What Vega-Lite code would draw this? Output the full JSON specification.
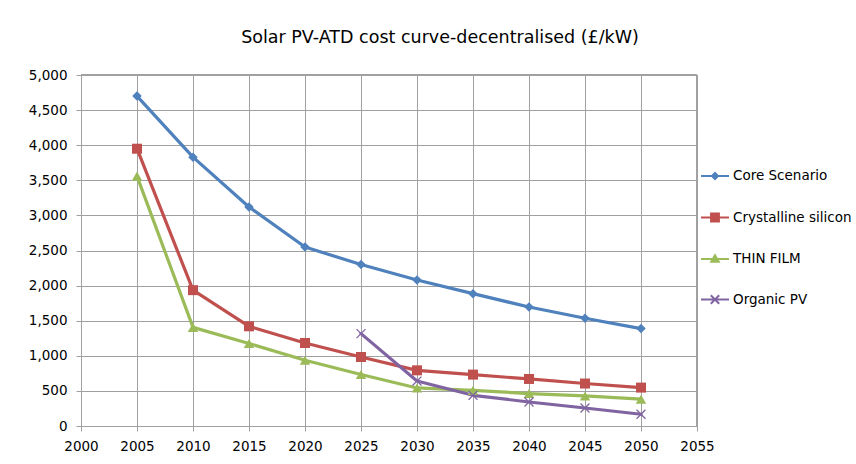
{
  "$schema": "https://vega.github.io/schema/vega-lite/v6.json",
  "autosize": "none",
  "width": 616,
  "height": 351,
  "padding": {"left": 81, "top": 75, "right": 159, "bottom": 38},
  "background": "white",
  "title": {
    "text": "Solar PV-ATD cost curve-decentralised (£/kW)",
    "font": "DejaVu Sans",
    "fontSize": 17.5,
    "fontWeight": "normal",
    "color": "#000000",
    "anchor": "middle",
    "frame": "group",
    "dx": 51,
    "baseline": "alphabetic",
    "offset": 8
  },
  "config": {
    "view": {"stroke": null},
    "font": "DejaVu Sans",
    "axis": {
      "labelFont": "DejaVu Sans",
      "labelFontSize": 13.5,
      "labelColor": "#000000",
      "gridColor": "#a0a0a0",
      "gridWidth": 1,
      "gridOpacity": 1,
      "domainColor": "#a0a0a0",
      "tickColor": "#a0a0a0",
      "tickSize": 5,
      "title": null
    }
  },
  "data": {
    "values": [
      {"year": 2005, "series": "Core Scenario", "cost": 4700},
      {"year": 2010, "series": "Core Scenario", "cost": 3830},
      {"year": 2015, "series": "Core Scenario", "cost": 3120},
      {"year": 2020, "series": "Core Scenario", "cost": 2550},
      {"year": 2025, "series": "Core Scenario", "cost": 2300},
      {"year": 2030, "series": "Core Scenario", "cost": 2080},
      {"year": 2035, "series": "Core Scenario", "cost": 1885},
      {"year": 2040, "series": "Core Scenario", "cost": 1695},
      {"year": 2045, "series": "Core Scenario", "cost": 1535},
      {"year": 2050, "series": "Core Scenario", "cost": 1388},
      {"year": 2005, "series": "Crystalline silicon", "cost": 3950},
      {"year": 2010, "series": "Crystalline silicon", "cost": 1935},
      {"year": 2015, "series": "Crystalline silicon", "cost": 1420},
      {"year": 2020, "series": "Crystalline silicon", "cost": 1182},
      {"year": 2025, "series": "Crystalline silicon", "cost": 983},
      {"year": 2030, "series": "Crystalline silicon", "cost": 793},
      {"year": 2035, "series": "Crystalline silicon", "cost": 732},
      {"year": 2040, "series": "Crystalline silicon", "cost": 670},
      {"year": 2045, "series": "Crystalline silicon", "cost": 605},
      {"year": 2050, "series": "Crystalline silicon", "cost": 547},
      {"year": 2005, "series": "THIN FILM", "cost": 3560},
      {"year": 2010, "series": "THIN FILM", "cost": 1405},
      {"year": 2015, "series": "THIN FILM", "cost": 1175},
      {"year": 2020, "series": "THIN FILM", "cost": 937},
      {"year": 2025, "series": "THIN FILM", "cost": 733},
      {"year": 2030, "series": "THIN FILM", "cost": 542},
      {"year": 2035, "series": "THIN FILM", "cost": 508},
      {"year": 2040, "series": "THIN FILM", "cost": 462},
      {"year": 2045, "series": "THIN FILM", "cost": 428},
      {"year": 2050, "series": "THIN FILM", "cost": 382},
      {"year": 2025, "series": "Organic PV", "cost": 1316},
      {"year": 2030, "series": "Organic PV", "cost": 640},
      {"year": 2035, "series": "Organic PV", "cost": 437},
      {"year": 2040, "series": "Organic PV", "cost": 342},
      {"year": 2045, "series": "Organic PV", "cost": 256},
      {"year": 2050, "series": "Organic PV", "cost": 167}
    ]
  },
  "encoding": {
    "x": {
      "field": "year",
      "type": "quantitative",
      "scale": {"domain": [2000, 2055], "nice": false, "zero": false},
      "axis": {
        "values": [2000, 2005, 2010, 2015, 2020, 2025, 2030, 2035, 2040, 2045, 2050, 2055],
        "format": "d",
        "labelPadding": 8,
        "labelFlush": false
      }
    },
    "y": {
      "field": "cost",
      "type": "quantitative",
      "scale": {"domain": [0, 5000], "nice": false},
      "axis": {
        "values": [0, 500, 1000, 1500, 2000, 2500, 3000, 3500, 4000, 4500, 5000],
        "format": ",.0f",
        "labelPadding": 9,
        "labelFlush": false
      }
    },
    "color": {
      "field": "series",
      "type": "nominal",
      "scale": {
        "domain": ["Core Scenario", "Crystalline silicon", "THIN FILM", "Organic PV"],
        "range": ["#4F81BD", "#C0504D", "#9BBB59", "#8064A2"]
      },
      "legend": null
    }
  },
  "layer": [
    {
      "mark": {"type": "rule", "color": "#a0a0a0", "strokeWidth": 1},
      "encoding": {
        "x": {"datum": 2055, "type": "quantitative"},
        "y": null,
        "color": null
      }
    },
    {
      "mark": {"type": "rule", "color": "#a0a0a0", "strokeWidth": 1},
      "encoding": {
        "y": {"datum": 5000, "type": "quantitative"},
        "x": null,
        "color": null
      }
    },
    {
      "mark": {"type": "line", "strokeWidth": 3.2, "strokeJoin": "round", "strokeCap": "round"},
      "encoding": {
        "detail": {"field": "series"},
        "color": {
          "field": "series",
          "type": "nominal",
          "legend": {
            "orient": "none",
            "legendX": 619,
            "legendY": 86,
            "title": null,
            "padding": 0,
            "labelFont": "DejaVu Sans",
            "labelFontSize": 13.5,
            "labelColor": "#000000",
            "labelOffset": 3,
            "symbolSize": 784,
            "symbolStrokeWidth": 2,
            "rowPadding": 18.5,
            "encode": {
              "symbols": {
                "update": {
                  "shape": {"signal": "datum.value === 'Core Scenario' ? 'M-1,0H1M0,-0.22L0.22,0L0,0.22L-0.22,0Z' : datum.value === 'Crystalline silicon' ? 'M-1,0H1M-0.28,-0.28H0.28V0.28H-0.28Z' : datum.value === 'THIN FILM' ? 'M-1,0H1M0,-0.27L0.27,0.2H-0.27Z' : 'M-1,0H1M-0.3,-0.3L0.3,0.3M-0.3,0.3L0.3,-0.3'"},
                  "fill": {"scale": "color", "field": "value"},
                  "stroke": {"scale": "color", "field": "value"},
                  "strokeWidth": {"value": 2},
                  "opacity": {"value": 1}
                }
              }
            }
          }
        }
      }
    },
    {
      "transform": [{"filter": "datum.series !== 'Organic PV'"}],
      "mark": {"type": "point", "filled": true, "opacity": 1},
      "encoding": {
        "shape": {
          "field": "series",
          "type": "nominal",
          "scale": {
            "domain": ["Core Scenario", "Crystalline silicon", "THIN FILM"],
            "range": ["diamond", "square", "triangle-up"]
          },
          "legend": null
        },
        "size": {
          "field": "series",
          "type": "nominal",
          "scale": {
            "domain": ["Core Scenario", "Crystalline silicon", "THIN FILM"],
            "range": [90, 110, 120]
          },
          "legend": null
        }
      }
    },
    {
      "transform": [{"filter": "datum.series === 'Organic PV'"}],
      "mark": {"type": "point", "filled": false, "opacity": 1, "shape": "M-1,-1L1,1M-1,1L1,-1", "size": 80, "strokeWidth": 1.3}
    }
  ]
}
